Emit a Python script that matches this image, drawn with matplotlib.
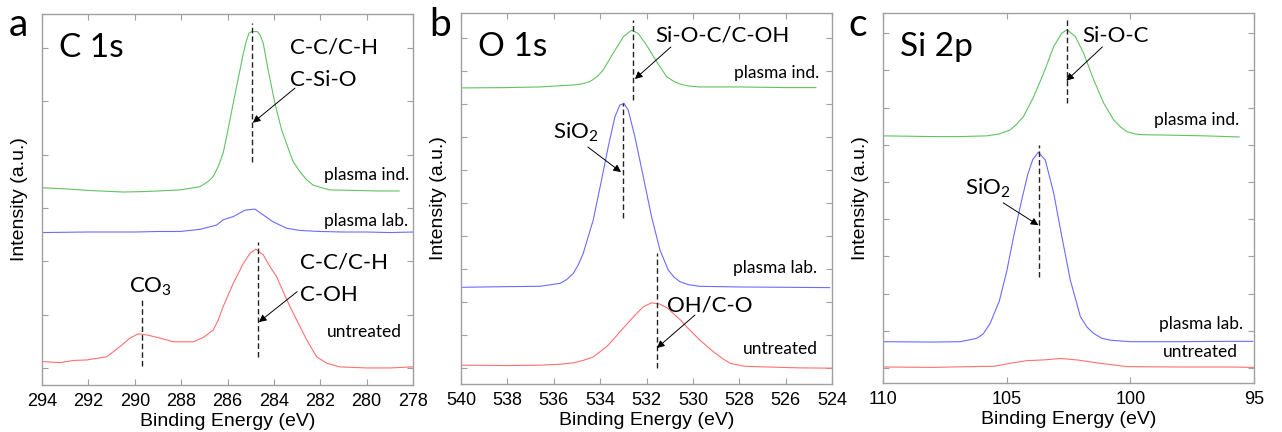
import matplotlib
matplotlib.use('Agg')
import matplotlib.pyplot as plt

plt.rcParams['font.family'] = ['Liberation Sans', 'DejaVu Sans']
plt.rcParams['mathtext.fontset'] = 'custom'
plt.rcParams['mathtext.rm'] = 'Lato'
plt.rcParams['mathtext.it'] = 'Lato:italic'

# ---- data (binding energy in eV, intensity in a.u.) ----
# C 1s
c1s_ind_x = [294.0, 293.0, 292.0, 291.0, 290.5, 289.5, 289.0, 288.05, 287.19, 286.83, 286.62,
             286.40, 286.19, 286.04, 285.90, 285.61, 285.32, 285.18, 285.07, 284.96, 284.72,
             284.60, 284.46, 284.25, 283.96, 283.67, 283.31, 283.17, 282.88, 282.59, 282.31,
             282.02, 281.59, 280.5, 279.5, 278.6]
c1s_ind_y = [3.38, 3.36, 3.33, 3.31, 3.30, 3.31, 3.32, 3.34, 3.40, 3.50, 3.59,
             3.78, 4.03, 4.34, 4.65, 5.28, 5.90, 6.15, 6.28, 6.31, 6.31,
             6.25, 6.09, 5.59, 4.97, 4.47, 4.03, 3.87, 3.68, 3.53, 3.43,
             3.39, 3.34, 3.33, 3.32, 3.32]
c1s_lab_x = [294.0, 292.0, 290.0, 289.0, 288.05, 287.19, 286.47, 286.19, 285.75, 285.25, 284.82,
             284.46, 284.03, 283.45, 282.88, 282.02, 281.0, 280.0, 279.0, 278.0]
c1s_lab_y = [2.54, 2.55, 2.55, 2.56, 2.56, 2.60, 2.68, 2.78, 2.84, 2.96, 2.98,
             2.87, 2.74, 2.62, 2.58, 2.56, 2.55, 2.55, 2.54, 2.55]
c1s_unt_x = [294.0, 293.22, 292.65, 292.07, 291.21, 290.64, 290.21, 289.85, 289.49, 288.91, 288.34,
             287.48, 287.05, 286.62, 286.40, 286.19, 285.75, 285.32, 285.03, 284.78, 284.46,
             284.17, 283.88, 283.45, 283.02, 282.59, 282.16, 281.73, 281.16, 280.0, 279.0,
             278.0]
c1s_unt_y = [0.12, 0.10, 0.14, 0.15, 0.21, 0.40, 0.56, 0.64, 0.62, 0.56, 0.49,
             0.49, 0.57, 0.71, 0.90, 1.15, 1.59, 1.96, 2.15, 2.23, 2.12,
             1.90, 1.71, 1.28, 0.90, 0.53, 0.21, 0.09, 0.02, 0.0, 0.0,
             0.02]

# O 1s
o1s_ind_x = [540.0, 538.0, 536.6, 535.16, 534.8, 534.44, 534.1, 533.87, 533.44, 533.0, 532.64,
             532.36, 532.0, 531.56, 531.13, 530.85, 530.56, 530.2, 529.70, 528.0, 526.0,
             524.7]
o1s_ind_y = [8.49, 8.50, 8.52, 8.58, 8.61, 8.68, 8.85, 9.03, 9.54, 10.04, 10.24,
             10.14, 9.79, 9.28, 8.83, 8.70, 8.61, 8.55, 8.52, 8.52, 8.50,
             8.50]
o1s_lab_x = [540.0, 538.0, 536.6, 535.73, 535.45, 535.16, 534.95, 534.73, 534.30, 533.94, 533.65,
             533.36, 533.15, 532.97, 532.79, 532.50, 532.14, 531.78, 531.42, 531.06, 530.8,
             530.56, 530.2, 529.70, 528.0, 526.0, 524.1]
o1s_lab_y = [2.45, 2.47, 2.48, 2.57, 2.68, 2.87, 3.12, 3.48, 4.48, 5.70, 6.71,
             7.62, 7.97, 8.02, 7.82, 7.01, 5.80, 4.58, 3.58, 2.97, 2.75,
             2.62, 2.53, 2.48, 2.46, 2.45, 2.44]
o1s_unt_x = [540.0, 538.0, 536.6, 535.7, 535.16, 534.7, 534.30, 533.72, 533.43, 533.15, 532.85,
             532.57, 532.14, 531.78, 531.42, 531.1, 530.85, 530.55, 530.27, 529.98, 529.70,
             529.12, 528.7, 528.4, 527.8, 527.0, 525.5, 524.0]
o1s_unt_y = [0.09, 0.08, 0.09, 0.12, 0.16, 0.24, 0.34, 0.65, 0.87, 1.10, 1.33,
             1.55, 1.86, 1.98, 1.94, 1.82, 1.66, 1.47, 1.25, 1.05, 0.85,
             0.50, 0.28, 0.15, 0.06, 0.04, 0.01, 0.0]

# Si 2p
si2p_ind_x = [110.0, 108.0, 106.88, 105.80, 105.3, 104.86, 104.6, 104.32, 103.91, 103.51, 103.10,
              102.77, 102.56, 102.23, 101.89, 101.48, 101.08, 100.68, 100.4, 100.13, 99.8,
              99.5, 98.5, 97.0, 95.6]
si2p_ind_y = [6.24, 6.22, 6.22, 6.24, 6.29, 6.40, 6.55, 6.76, 7.29, 7.92, 8.64,
              9.00, 9.09, 8.91, 8.46, 7.74, 7.12, 6.67, 6.48, 6.35, 6.29,
              6.27, 6.26, 6.24, 6.21]
si2p_lab_x = [110.0, 108.0, 106.88, 106.21, 105.95, 105.67, 105.3, 105.0, 104.7, 104.4, 104.15,
              103.95, 103.72, 103.44, 103.10, 102.77, 102.43, 102.02, 101.75, 101.48, 101.15,
              100.81, 100.0, 98.0, 96.0, 95.05]
si2p_lab_y = [0.71, 0.70, 0.71, 0.80, 0.92, 1.20, 1.80, 2.60, 3.60, 4.50, 5.20,
              5.60, 5.80, 5.59, 4.70, 3.53, 2.37, 1.38, 1.10, 0.93, 0.80,
              0.75, 0.71, 0.71, 0.72, 0.72]
si2p_unt_x = [110.0, 108.0, 106.88, 105.5, 104.86, 104.2, 103.51, 102.83, 102.16, 101.21, 100.13,
              98.0, 96.0, 95.0]
si2p_unt_y = [0.03, 0.02, 0.035, 0.05, 0.13, 0.20, 0.22, 0.26, 0.22, 0.13, 0.04,
              0.03, 0.03, 0.02]

green = '#62c262'
blue = '#6b6bff'
red = '#ff7070'
gray = '#a0a0a0'
txt_font = ['Lato', 'DejaVu Sans']

fig = plt.figure(figsize=(12.82, 4.32), dpi=100)
ax_a = fig.add_axes([0.0328, 0.1088, 0.2894, 0.8588])
ax_b = fig.add_axes([0.3596, 0.1111, 0.2894, 0.8588])
ax_c = fig.add_axes([0.6888, 0.1134, 0.2894, 0.8565])


def style_axis(ax, xlim, ylim, xticks, nyticks):
    ax.set_xlim(*xlim)
    ax.set_ylim(*ylim)
    ax.set_xticks(xticks)
    ax.set_yticks(range(nyticks))
    ax.tick_params(direction='in', length=4, color=gray, top=True, right=True,
                   labelleft=False, labelsize=13, pad=6)
    for sp in ax.spines.values():
        sp.set_color(gray)
        sp.set_linewidth(1)
    ax.set_xlabel('Binding Energy (eV)', fontsize=14, labelpad=2)
    ax.set_ylabel('Intensity (a.u.)', fontsize=14, labelpad=10)


def dash(ax, x, y0, y1):
    ax.plot([x, x], [y0, y1], color='#222222', lw=1.0, ls=(0, (4, 2.2)))


def arrow(ax, tail, head):
    ax.annotate('', xy=head, xytext=tail,
                arrowprops=dict(arrowstyle='-|>', color='black', lw=0.7,
                                mutation_scale=11, shrinkA=0, shrinkB=0))


def label(ax, x, y, s, size=16, ha='left'):
    ax.text(x, y, s, fontsize=size, ha=ha, va='center', family=txt_font)


# ---- panel a: C 1s ----
ax = ax_a
ax.plot(c1s_ind_x, c1s_ind_y, color=green, lw=0.8)
ax.plot(c1s_lab_x, c1s_lab_y, color=blue, lw=0.8)
ax.plot(c1s_unt_x, c1s_unt_y, color=red, lw=0.8)
style_axis(ax, (294, 278), (-0.32, 6.64), range(294, 277, -2), 7)
dash(ax, 284.95, 3.86, 6.47)
dash(ax, 284.7, 0.21, 2.36)
dash(ax, 289.7, 0.04, 1.28)
label(ax, 293.27, 6.0, 'C 1s', size=24)
label(ax, 283.31, 6.02, 'C-C/C-H')
label(ax, 283.31, 5.40, 'C-Si-O')
arrow(ax, (283.09, 5.25), (284.91, 4.60))
label(ax, 282.88, 1.97, 'C-C/C-H')
label(ax, 282.88, 1.37, 'C-OH')
arrow(ax, (283.0, 1.43), (284.65, 0.86))
label(ax, 289.34, 1.52, r'CO$_\mathregular{3}$', ha='center')
label(ax, 278.18, 3.62, 'plasma ind.', size=12.5, ha='right')
label(ax, 278.22, 2.76, 'plasma lab.', size=12.5, ha='right')
label(ax, 278.48, 0.68, 'untreated', size=12.5, ha='right')

# ---- panel b: O 1s ----
ax = ax_b
ax.plot(o1s_ind_x, o1s_ind_y, color=green, lw=0.8)
ax.plot(o1s_lab_x, o1s_lab_y, color=blue, lw=0.8)
ax.plot(o1s_unt_x, o1s_unt_y, color=red, lw=0.8)
style_axis(ax, (540, 524), (-0.48, 10.76), range(540, 523, -2), 11)
dash(ax, 532.6, 8.12, 10.55)
dash(ax, 533.0, 4.55, 8.03)
dash(ax, 531.55, 0.0, 3.48)
label(ax, 539.27, 9.73, 'O 1s', size=24)
label(ax, 531.64, 10.09, 'Si-O-C/C-OH')
arrow(ax, (530.95, 9.73), (532.5, 8.76))
label(ax, 536.03, 7.15, r'SiO$_\mathregular{2}$')
arrow(ax, (534.53, 6.70), (533.10, 5.94))
label(ax, 531.12, 1.91, 'OH/C-O')
arrow(ax, (529.91, 1.61), (531.55, 0.61))
label(ax, 524.57, 8.94, 'plasma ind.', size=12.5, ha='right')
label(ax, 524.66, 3.03, 'plasma lab.', size=12.5, ha='right')
label(ax, 524.61, 0.58, 'untreated', size=12.5, ha='right')

# ---- panel c: Si 2p ----
ax = ax_c
ax.plot(si2p_ind_x, si2p_ind_y, color=green, lw=0.8)
ax.plot(si2p_lab_x, si2p_lab_y, color=blue, lw=0.8)
ax.plot(si2p_unt_x, si2p_unt_y, color=red, lw=0.8)
style_axis(ax, (110, 95), (-0.40, 9.54), [110, 105, 100, 95], 10)
dash(ax, 102.55, 7.12, 9.35)
dash(ax, 103.7, 2.45, 5.99)
label(ax, 109.31, 8.63, 'Si 2p', size=24)
label(ax, 101.94, 8.92, 'Si-O-C')
arrow(ax, (101.13, 8.63), (102.59, 7.72))
label(ax, 106.68, 4.84, r'SiO$_\mathregular{2}$')
arrow(ax, (105.14, 4.44), (103.72, 3.84))
label(ax, 95.59, 6.67, 'plasma ind.', size=12.5, ha='right')
label(ax, 95.43, 1.18, 'plasma lab.', size=12.5, ha='right')
label(ax, 95.67, 0.43, 'untreated', size=12.5, ha='right')

# panel letters
for lx, letter in [(18, 'a'), (440, 'b'), (858, 'c')]:
    fig.text(lx / 1282, 1 - 25 / 432, letter, fontsize=28, ha='center', va='center',
             family=txt_font)

fig.savefig('out.png', dpi=100)
